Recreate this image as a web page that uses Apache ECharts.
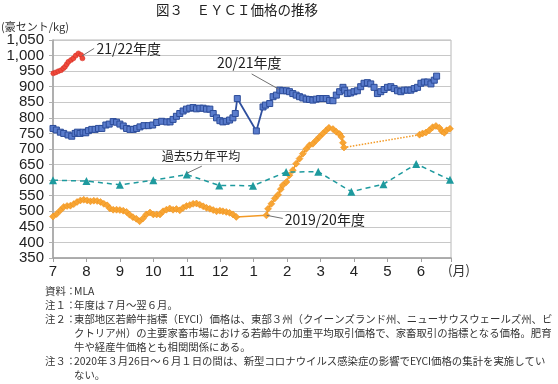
<!DOCTYPE html>
<html><head><meta charset="utf-8">
<script src="https://cdn.jsdelivr.net/npm/echarts@6/dist/echarts.min.js"></script>
<style>html,body{margin:0;padding:0;background:#fff}#c{width:558px;height:384px}</style>
</head><body><div id="c"></div>
<script>
// x = months elapsed since start of fiscal year (July = 0)
const monthLabels = ['7','8','9','10','11','12','1','2','3','4','5','6'];
const yMin = 350, yMax = 1050, yStep = 50;

const fy2122 = [[0.01,943],[0.08,946],[0.16,950],[0.24,953],[0.31,959],[0.36,964],[0.41,972],[0.46,980],[0.54,986],[0.61,991],[0.68,1000],[0.76,1007],[0.84,1002],[0.88,991]];

const fy2021 = [[0.00,766],[0.10,761],[0.22,754],[0.32,750],[0.45,745],[0.56,741],[0.66,750],[0.73,754],[0.81,750],[0.90,754],[0.98,752],[1.06,759],[1.16,763],[1.26,763],[1.36,766],[1.46,766],[1.58,777],[1.68,780],[1.80,788],[1.90,786],[2.00,780],[2.10,774],[2.20,766],[2.30,763],[2.40,763],[2.50,766],[2.60,771],[2.72,775],[2.85,775],[2.98,777],[3.10,785],[3.25,789],[3.40,787],[3.50,787],[3.59,795],[3.69,805],[3.79,814],[3.89,822],[3.99,828],[4.09,831],[4.19,833],[4.29,829],[4.39,831],[4.49,831],[4.59,828],[4.69,828],[4.79,814],[4.89,800],[4.99,791],[5.08,787],[5.18,789],[5.28,793],[5.38,800],[5.45,814],[5.51,862],[6.08,758],[6.28,835],[6.35,841],[6.48,846],[6.58,868],[6.68,873],[6.78,889],[6.87,887],[6.98,887],[7.07,884],[7.17,878],[7.27,873],[7.37,868],[7.47,864],[7.57,860],[7.67,859],[7.77,857],[7.87,860],[7.97,862],[8.07,862],[8.17,862],[8.27,856],[8.37,855],[8.47,873],[8.57,884],[8.67,898],[8.72,889],[8.80,878],[8.90,880],[9.00,884],[9.10,887],[9.20,900],[9.30,911],[9.40,913],[9.50,909],[9.60,898],[9.70,878],[9.80,884],[9.90,891],[10.00,898],[10.10,900],[10.20,894],[10.30,887],[10.40,884],[10.50,889],[10.60,889],[10.70,889],[10.80,894],[10.90,898],[11.00,911],[11.10,915],[11.20,915],[11.30,909],[11.40,921],[11.47,934]];

const fy1920 = [[0.00,483],[0.11,491],[0.22,503],[0.32,514],[0.42,517],[0.52,518],[0.62,523],[0.72,530],[0.82,535],[0.92,537],[1.02,535],[1.12,532],[1.22,534],[1.32,533],[1.42,530],[1.52,524],[1.62,519],[1.70,509],[1.80,505],[1.90,505],[2.00,504],[2.10,502],[2.20,498],[2.29,489],[2.39,481],[2.49,476],[2.59,468],[2.69,477],[2.79,490],[2.90,496],[3.00,490],[3.10,490],[3.20,490],[3.29,500],[3.39,505],[3.49,509],[3.59,505],[3.69,507],[3.79,503],[3.89,511],[3.99,517],[4.09,520],[4.19,524],[4.29,525],[4.39,521],[4.49,516],[4.59,511],[4.69,508],[4.79,504],[4.89,500],[4.99,502],[5.08,500],[5.18,498],[5.28,495],[5.38,490],[5.48,482],[6.38,487],[6.43,508],[6.53,524],[6.63,541],[6.73,553],[6.81,571],[6.87,584],[6.98,594],[7.07,616],[7.17,632],[7.27,653],[7.37,669],[7.47,685],[7.57,700],[7.67,712],[7.77,717],[7.87,728],[7.97,739],[8.07,750],[8.17,760],[8.25,768],[8.37,764],[8.47,755],[8.57,748],[8.62,739],[8.67,720],[8.70,705],[null,null],[10.96,746],[11.05,750],[11.15,753],[11.25,760],[11.35,770],[11.45,774],[11.55,768],[11.63,757],[11.70,752],[11.77,760],[11.87,765]];

const fy1920Gap = [[8.70,705],[10.96,746]];

const avg5 = [[0.00,600],[1.00,597],[2.00,585],[3.00,600],[4.00,618],[4.97,583],[5.98,582],[6.97,626],[7.93,627],[8.92,563],[9.88,587],[10.86,652],[11.87,601]];

const titleText = '図３　ＥＹＣＩ価格の推移';
const unitText = '(豪セント/kg)';
const monthUnit = '(月)';
const annotations = [
  {text:'21/22年度', at:[1.30,1023], from:[0.87,999], to:[1.23,1023], size:14},
  {text:'20/21年度', at:[4.90,976], from:[5.94,941], to:[6.75,892], size:14},
  {text:'過去5カ年平均', at:[3.25,677], from:[4.00,622], to:[4.45,645], size:12},
  {text:'2019/20年度', at:[6.93,474], from:[6.39,487], to:[6.87,477], size:14}
];
const notes = [
  ['資料：','MLA'],
  ['注１：','年度は７月～翌６月。'],
  ['注２：','東部地区若齢牛指標（EYCI）価格は、東部３州（クイーンズランド州、ニューサウスウェールズ州、ビ'],
  ['','クトリア州）の主要家畜市場における若齢牛の加重平均取引価格で、家畜取引の指標となる価格。肥育'],
  ['','牛や経産牛価格とも相関関係にある。'],
  ['注３：','2020年３月26日～６月１日の間は、新型コロナウイルス感染症の影響でEYCI価格の集計を実施してい'],
  ['','ない。']
];

const chart = echarts.init(document.getElementById('c'), null, {renderer:'canvas'});
const JP = "'Noto Sans CJK JP', sans-serif";
const NUM = "'Liberation Sans', Arial, sans-serif";
const ORANGE = '#f39a26', BLUE = '#2f4f9e', RED = '#e5332a', TEAL = '#1e9a9e';

chart.setOption({
  animation: false,
  grid: {left:53, right:107, top:40, bottom:126, show:true, borderColor:'#b8b8b8', borderWidth:1},
  xAxis: {
    type:'value', min:0, max:11.9, interval:1,
    axisLine:{show:true, onZero:false, lineStyle:{color:'#a0a0a0', width:1.5}},
    axisTick:{show:true, length:4, lineStyle:{color:'#a0a0a0'}},
    splitLine:{show:false},
    axisLabel:{margin:6, color:'#222', fontSize:15, fontFamily:NUM,
      formatter: v => Number.isInteger(v) && v < monthLabels.length ? monthLabels[v] : ''}
  },
  yAxis: {
    type:'value', min:yMin, max:yMax, interval:yStep,
    axisLine:{show:true, lineStyle:{color:'#a0a0a0', width:1.5}},
    axisTick:{show:true, length:4, lineStyle:{color:'#b0b0b0'}},
    splitLine:{show:true, lineStyle:{color:'#c8c8c8', width:1}},
    axisLabel:{margin:9, color:'#222', fontSize:15, fontFamily:NUM,
      formatter: v => v >= 1000 ? Math.floor(v/1000) + ',' + String(v%1000).padStart(3,'0') : String(v)}
  },
  series: [
    {type:'line', name:'gap', data:fy1920Gap, symbol:'none', lineStyle:{color:ORANGE, width:1.5, type:'dotted'}, z:2},
    {type:'line', name:'2019/20', data:fy1920, connectNulls:false, symbol:'diamond', symbolSize:7,
      lineStyle:{color:ORANGE, width:1.5}, itemStyle:{color:'#f7a535', borderColor:'#f08c10', borderWidth:0.5}, z:3},
    {type:'line', name:'avg5', data:avg5, symbol:'triangle', symbolSize:8,
      lineStyle:{color:TEAL, width:1.5, type:[5,4]}, itemStyle:{color:TEAL}, z:4},
    {type:'line', name:'2020/21', data:fy2021, symbol:'rect', symbolSize:6,
      lineStyle:{color:BLUE, width:1.8}, itemStyle:{color:'#5a7ccc', borderColor:'#2c4c99', borderWidth:1}, z:5},
    {type:'line', name:'2021/22', data:fy2122, symbol:'circle', symbolSize:5,
      lineStyle:{color:RED, width:1.2}, itemStyle:{color:'#ee4a3c', borderColor:'#d42a20', borderWidth:0.5}, z:6}
  ]
});

const g = [];
g.push({type:'text', x:237, y:10, style:{text:titleText, fill:'#222', fontSize:13.5, fontFamily:JP, align:'center', verticalAlign:'middle'}});
g.push({type:'text', x:1, y:27, style:{text:unitText, fill:'#333', fontSize:11, fontFamily:JP, align:'left', verticalAlign:'middle'}});
g.push({type:'text', x:448, y:270, style:{text:monthUnit, fill:'#333', fontSize:13, fontFamily:JP, align:'left', verticalAlign:'middle'}});
annotations.forEach(a => {
  const p = chart.convertToPixel({gridIndex:0}, a.at);
  const f = chart.convertToPixel({gridIndex:0}, a.from);
  const t = chart.convertToPixel({gridIndex:0}, a.to);
  g.push({type:'line', shape:{x1:f[0], y1:f[1], x2:t[0], y2:t[1]}, style:{stroke:'#707070', lineWidth:1}, z:10});
  g.push({type:'text', x:p[0], y:p[1], style:{text:a.text, fill:'#222', fontSize:a.size, fontFamily:JP, align:'left', verticalAlign:'middle'}, z:10});
});
const noteTop = 291, noteStep = 14;
notes.forEach((n, i) => {
  const y = noteTop + i*noteStep;
  if (n[0]) g.push({type:'text', x:45, y:y, style:{text:n[0], fill:'#333', fontSize:10.4, fontFamily:JP, align:'left', verticalAlign:'middle'}});
  g.push({type:'text', x:74, y:y, style:{text:n[1], fill:'#333', fontSize:10.4, fontFamily:JP, align:'left', verticalAlign:'middle'}});
});
chart.setOption({graphic: g});
</script>
</body></html>
